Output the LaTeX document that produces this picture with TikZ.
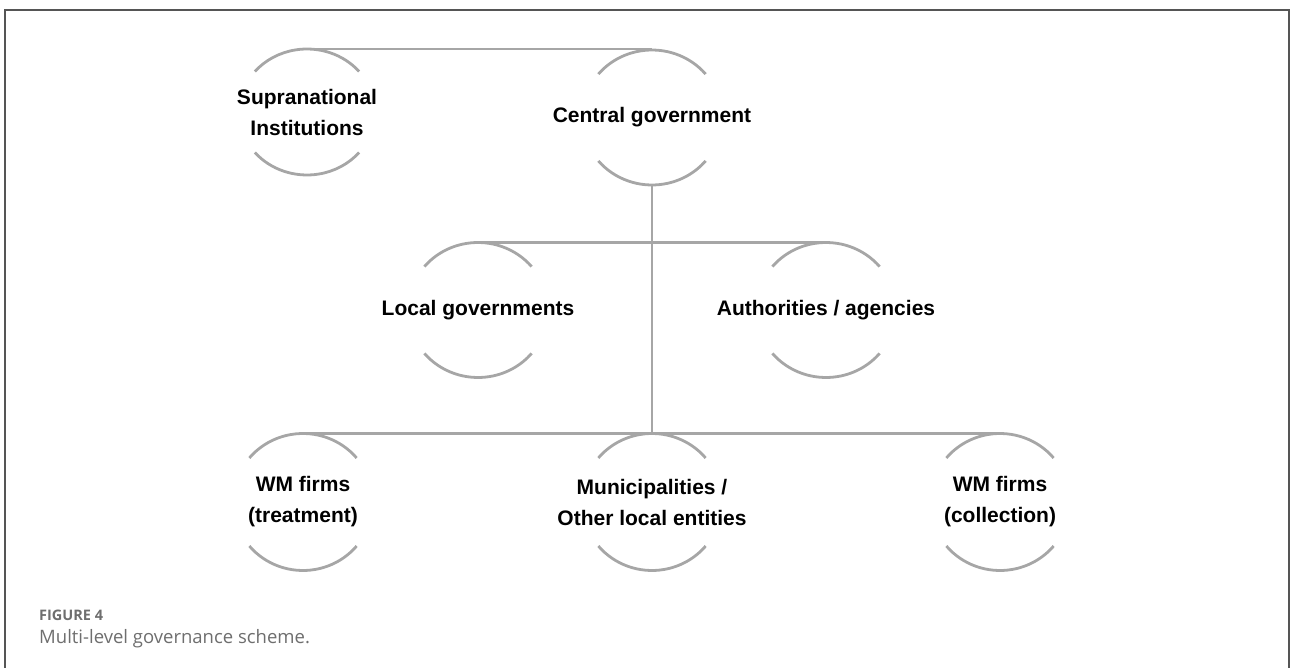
\documentclass[tikz,border=0pt]{standalone}
\usepackage{fontspec}
\setmainfont{Liberation Sans}
\newfontfamily\capfont{Open Sans}
\usepackage{xcolor}
\usepackage{tikz}
\usetikzlibrary{calc}
\definecolor{ink}{HTML}{000000}
\definecolor{ringgray}{HTML}{A6A6A6}
\definecolor{framegray}{HTML}{555555}
\definecolor{capgray}{HTML}{6E6E6E}
\tikzset{
  level/.style={rectangle, minimum width=140pt, minimum height=135pt, inner sep=0pt, outer sep=0pt,
    align=center, text=ink, font=\fontsize{21}{31}\selectfont\bfseries},
  ring/.style={draw=ringgray, line width=2.8pt},
  link/.style={draw=ringgray, line width=2.8pt},
  frame/.style={draw=framegray, line width=1.3pt},
  captext/.style={text=capgray, anchor=base west, inner sep=0pt},
}

\begin{document}
\begin{tikzpicture}[x=1pt, y=1pt]
  \useasboundingbox (0,0) rectangle (1290,-668);
  \draw[frame] (5,-668) -- (5,-10) -- (1289,-10) -- (1289,-668);

  % governance levels
  \node[level, minimum height=126pt] (supra) at (307,-112) {Supranational\\Institutions};
  \node[level] (central) at (652,-117.5) {Central government};
  \node[level] (local) at (478,-310) {Local governments};
  \node[level] (auth) at (826,-310) {Authorities / agencies};
  \node[level, minimum height=137pt] (wmt) at (303,-502) {WM firms\\(treatment)};
  \node[level, minimum height=137pt] (muni) at (652,-502) {Municipalities /\\Other local entities};
  \node[level, minimum height=137pt] (wmc) at (1000,-502) {WM firms\\(collection)};

  % open rings round each level
  \foreach \n/\rx/\ry in {supra/68/63, central/70/67.5, local/70/67.5, auth/70/67.5,
      wmt/70/68.5, muni/70/68.5, wmc/70/68.5}
    \draw[ring] (\n.center) ++(40:\rx pt and \ry pt) arc[start angle=40, end angle=140, x radius=\rx, y radius=\ry]
      (\n.center) ++(220:\rx pt and \ry pt) arc[start angle=220, end angle=320, x radius=\rx, y radius=\ry];

  % links between levels
  \draw[link] (supra.north) -- (supra.north -| central.north);
  \draw[link] (central.south) -- (muni.north);
  \draw[link] (local.north) -- (auth.north);
  \draw[link] (wmt.north) -- (wmc.north);

  % caption
  \node[captext, font=\capfont\bfseries\fontsize{14.5}{17}\selectfont] (fig) at (39,-620) {FIGURE 4};
  \node[captext, font=\capfont\fontsize{18.5}{22}\selectfont] (title) at (39,-643) {Multi-level governance scheme.};
\end{tikzpicture}
\end{document}
